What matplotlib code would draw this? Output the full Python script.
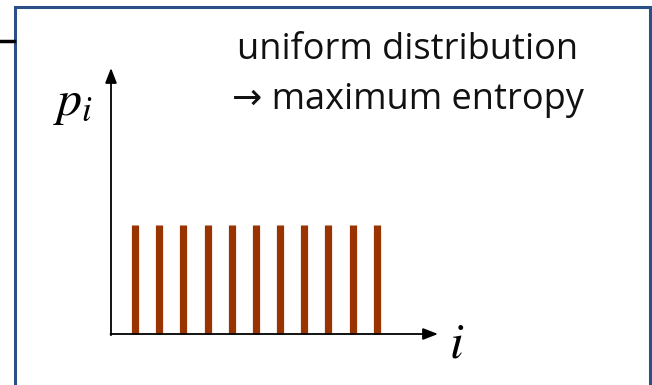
import numpy as np
import matplotlib.pyplot as plt
from matplotlib.patches import Rectangle
from matplotlib.lines import Line2D

# uniform distribution over 11 states
i_vals = np.arange(1, 12)
p_vals = np.full(len(i_vals), 1 / 11)

W, H = 652, 385
fig = plt.figure(figsize=(W / 100, H / 100), dpi=100)

# frame around the panel
fig.add_artist(Rectangle((15 / W, -0.1), (650 - 15) / W, (H - 7) / H + 0.1,
                         transform=fig.transFigure, fill=False,
                         edgecolor='#2b5088', lw=2.2))
fig.add_artist(Line2D([0, 14 / W], [1 - 41 / H, 1 - 41 / H],
                      transform=fig.transFigure, color='black', lw=2.5))

x0, y0, x1, y1 = 111, 334, 438, 68
ax = fig.add_axes([x0 / W, 1 - y0 / H, (x1 - x0) / W, (y0 - y1) / H])
xmax, ymax = 13.54, 0.222
ax.set_xlim(0, xmax)
ax.set_ylim(0, ymax)
ax.axis('off')

ax.vlines(i_vals, 0, p_vals, colors='#993300', lw=5.2, clip_on=False)

arrow = dict(arrowstyle='-|>,head_length=0.9,head_width=0.35', color='black',
             lw=1.3, shrinkA=0, shrinkB=0)
ax.annotate('', xy=(xmax, 0), xytext=(-0.02, 0), arrowprops=arrow,
            annotation_clip=False)
ax.annotate('', xy=(0, ymax), xytext=(0, -0.001), arrowprops=arrow,
            annotation_clip=False)

fig.text(73 / W, 1 - 103 / H, r'$p_i$', fontsize=36, ha='center', va='center',
         math_fontfamily='stix')
fig.text(457 / W, 1 - 343 / H, r'$i$', fontsize=36, ha='center', va='center',
         math_fontfamily='stix')

label_font = ['Open Sans', 'DejaVu Sans']
fig.text(408 / W, 1 - 50 / H, 'uniform distribution', fontsize=26,
         family=label_font, ha='center', va='center', color='#111111')
fig.text(408 / W, 1 - 100 / H, '\u2192 maximum entropy', fontsize=26,
         family=label_font, ha='center', va='center', color='#111111')

fig.savefig('out.png', dpi=100)
